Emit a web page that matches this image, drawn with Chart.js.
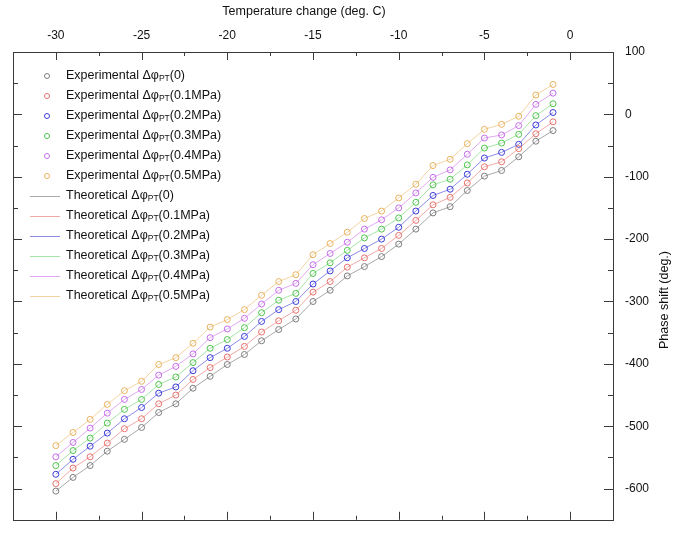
<!DOCTYPE html>
<html>
<head>
<meta charset="utf-8">
<title>Phase shift vs temperature change</title>
<style>
  html, body { margin: 0; padding: 0; background: #ffffff; }
  #wrap { width: 691px; height: 539px; position: relative; }
</style>
<script src="https://cdn.jsdelivr.net/npm/chart.js@4.4.0/dist/chart.umd.min.js"></script>
</head>
<body>
<div id="wrap"><canvas id="chart" width="691" height="539"></canvas></div>
<script>
// Temperature change (deg. C)
const temperatures = [-30, -29, -28, -27, -26, -25, -24, -23, -22, -21, -20, -19, -18, -17, -16,
                      -15, -14, -13, -12, -11, -10, -9, -8, -7, -6, -5, -4, -3, -2, -1];

// Phase shift (deg.) for each applied pressure
const shift0 = [-604, -582, -563, -540, -521, -502, -478, -464, -439, -420, -401, -385, -363, -345, -328,
                -300, -282, -259, -244, -228, -208, -184, -158, -148, -122, -99, -90, -68, -43, -26];
const shift01 = [-592, -567, -549, -527, -504, -488, -464, -450, -425, -406, -389, -372, -349, -331, -314,
                 -285, -268, -245, -230, -215, -194, -170, -145, -133, -110, -84, -76, -55, -31, -12];
const shift02 = [-577, -553, -532, -511, -488, -470, -447, -437, -411, -390, -375, -356, -332, -313, -300,
                 -272, -251, -230, -215, -200, -181, -155, -130, -120, -96, -70, -61, -48, -17, 3];
const shift03 = [-563, -539, -519, -495, -473, -457, -433, -421, -398, -375, -361, -342, -318, -298, -287,
                 -255, -238, -218, -198, -184, -166, -141, -113, -104, -81, -54, -46, -32, -2, 17];
const shift04 = [-549, -526, -503, -479, -457, -441, -418, -404, -384, -358, -344, -327, -304, -282, -271,
                 -241, -223, -205, -184, -169, -150, -126, -101, -89, -64, -38, -33, -18, 16, 34];
const shift05 = [-531, -510, -489, -465, -443, -428, -401, -390, -367, -341, -329, -313, -290, -268, -257,
                 -225, -207, -189, -167, -155, -134, -112, -82, -72, -47, -24, -16, -3, 31, 48];

const pressures = ['0', '0.1MPa', '0.2MPa', '0.3MPa', '0.4MPa', '0.5MPa'];
const shiftSeries = [shift0, shift01, shift02, shift03, shift04, shift05];

const markerColors = ['#7d7d7d', '#e5736f', '#3b3bd6', '#4fc44f', '#c46ee6', '#e8b25e'];
const lineColors = ['#a8a8a8', '#f2aaa6', '#8c8ce6', '#a6e3a6', '#e0a9f2', '#f3d3a2'];

const xTickValues = [-30, -25, -20, -15, -10, -5, 0];
const yTickValues = [100, 0, -100, -200, -300, -400, -500, -600];

const xRange = [-32.5, 2.5];
const yRange = [-650, 100];

const toPoints = (ys) => temperatures.map((t, i) => ({ x: t, y: ys[i] }));

const datasets = [];
shiftSeries.forEach((ys, i) => {
  datasets.push({
    label: 'Experimental Δφ|PT|(' + pressures[i] + ')',
    kind: 'marker',
    data: toPoints(ys),
    showLine: false,
    pointStyle: 'circle',
    pointRadius: 3,
    pointBorderWidth: 1,
    pointBackgroundColor: 'rgba(0,0,0,0)',
    pointBorderColor: markerColors[i],
    borderColor: markerColors[i],
    order: 1
  });
});
shiftSeries.forEach((ys, i) => {
  datasets.push({
    label: 'Theoretical Δφ|PT|(' + pressures[i] + ')',
    kind: 'line',
    data: toPoints(ys),
    showLine: true,
    pointRadius: 0,
    borderWidth: 1,
    borderColor: lineColors[i],
    backgroundColor: lineColors[i],
    fill: false,
    tension: 0,
    order: 2
  });
});

const FONT = '"Liberation Sans", Arial, sans-serif';

// Closed frame with inward major/minor tick marks on all four sides
const framePlugin = {
  id: 'frame',
  afterDraw(chart) {
    const { ctx, chartArea: a, scales } = chart;
    const xs = scales.x, ys = scales.y;
    ctx.save();
    ctx.strokeStyle = '#3a3a3a';
    ctx.lineWidth = 1;
    ctx.strokeRect(Math.round(a.left) + 0.5, Math.round(a.top) + 0.5,
                   Math.round(a.right - a.left), Math.round(a.bottom - a.top));
    ctx.beginPath();
    for (let v = xRange[0]; v <= xRange[1] + 1e-9; v += 2.5) {
      const major = xTickValues.includes(v);
      const len = major ? 8 : 4;
      const px = Math.round(xs.getPixelForValue(v)) + 0.5;
      ctx.moveTo(px, a.top); ctx.lineTo(px, a.top + len);
      ctx.moveTo(px, a.bottom); ctx.lineTo(px, a.bottom - len);
    }
    for (let v = yRange[0]; v <= yRange[1] + 1e-9; v += 50) {
      const major = yTickValues.includes(v);
      const len = major ? 9 : 5;
      const py = Math.round(ys.getPixelForValue(v)) + 0.5;
      ctx.moveTo(a.left, py); ctx.lineTo(a.left + len, py);
      ctx.moveTo(a.right, py); ctx.lineTo(a.right - len, py);
    }
    ctx.stroke();

    // Axis titles
    ctx.fillStyle = '#111111';
    ctx.font = '12.5px ' + FONT;
    ctx.textAlign = 'center';
    ctx.textBaseline = 'middle';
    ctx.fillText('Temperature change (deg. C)', 304, 12);
    ctx.translate(665, 300);
    ctx.rotate(-Math.PI / 2);
    ctx.fillText('Phase shift (deg.)', 0, 0);
    ctx.restore();
  }
};

// Legend with subscripted labels
const legendPlugin = {
  id: 'subLegend',
  afterDraw(chart) {
    const { ctx } = chart;
    const rowTop = 76, rowStep = 20;
    ctx.save();
    chart.data.datasets.forEach((ds, i) => {
      const y = rowTop + i * rowStep;
      if (ds.kind === 'marker') {
        ctx.strokeStyle = ds.pointBorderColor;
        ctx.lineWidth = 1;
        ctx.beginPath();
        ctx.arc(47, y, 2.5, 0, Math.PI * 2);
        ctx.stroke();
      } else {
        ctx.strokeStyle = ds.borderColor;
        ctx.lineWidth = 1;
        ctx.beginPath();
        ctx.moveTo(30, y + 0.5);
        ctx.lineTo(60, y + 0.5);
        ctx.stroke();
      }
      const parts = ds.label.split('|');
      let x = 66;
      ctx.fillStyle = '#111111';
      ctx.textAlign = 'left';
      ctx.textBaseline = 'middle';
      ctx.font = '12.5px ' + FONT;
      ctx.fillText(parts[0], x, y);
      x += ctx.measureText(parts[0]).width;
      ctx.font = '8.5px ' + FONT;
      ctx.fillText(parts[1], x, y + 3);
      x += ctx.measureText(parts[1]).width;
      ctx.font = '12.5px ' + FONT;
      ctx.fillText(parts[2], x, y);
    });
    ctx.restore();
  }
};

new Chart(document.getElementById('chart'), {
  type: 'scatter',
  data: { datasets },
  options: {
    responsive: false,
    animation: false,
    events: [],
    layout: { padding: { left: 13, right: 0, top: 0, bottom: 2 } },
    plugins: {
      legend: { display: false },
      tooltip: { enabled: false },
      title: { display: false }
    },
    scales: {
      x: {
        type: 'linear',
        position: 'top',
        min: xRange[0],
        max: xRange[1],
        grid: { display: false, drawTicks: false },
        border: { display: false },
        afterBuildTicks: (scale) => { scale.ticks = xTickValues.map(v => ({ value: v })); },
        afterFit: (scale) => { scale.height = 52; },
        ticks: {
          padding: 9,
          color: '#111111',
          font: { family: FONT, size: 12 },
          maxRotation: 0,
          callback: (v) => String(v)
        }
      },
      y: {
        type: 'linear',
        position: 'right',
        min: yRange[0],
        max: yRange[1],
        grid: { display: false, drawTicks: false },
        border: { display: false },
        afterBuildTicks: (scale) => { scale.ticks = yTickValues.map(v => ({ value: v })); },
        afterFit: (scale) => { scale.width = 78; },
        ticks: {
          padding: 12,
          color: '#111111',
          font: { family: FONT, size: 12 },
          callback: (v) => String(v)
        }
      }
    }
  },
  plugins: [framePlugin, legendPlugin]
});
</script>
</body>
</html>
